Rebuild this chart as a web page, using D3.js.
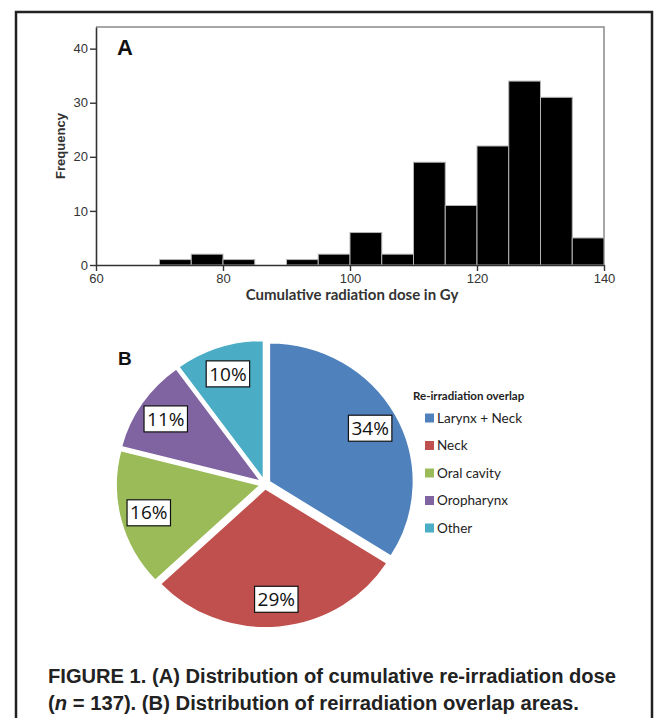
<!DOCTYPE html>
<html>
<head>
<meta charset="utf-8">
<script src="https://cdn.jsdelivr.net/npm/d3@7"></script>
<style>
  html, body { margin: 0; padding: 0; background: #fff; }
  svg { display: block; }
</style>
</head>
<body>
<script>
// ---------- DATA ----------
const binStarts = [70, 75, 80, 85, 90, 95, 100, 105, 110, 115, 120, 125, 130, 135];
const binWidth = 5;
const frequencies = [1, 2, 1, 0, 1, 2, 6, 2, 19, 11, 22, 34, 31, 5];
const xTicks = [60, 80, 100, 120, 140];
const yTicks = [0, 10, 20, 30, 40];

const pieCategories = ["Larynx + Neck", "Neck", "Oral cavity", "Oropharynx", "Other"];
const pieValues = [34, 29, 16, 11, 10];
const pieColors = ["#4F81BD", "#C0504D", "#9BBB59", "#8064A2", "#4BACC6"];

const W = 654, H = 718;
const svg = d3.select("body").append("svg").attr("width", W).attr("height", H);

// outer frame
svg.append("path")
  .attr("d", "M16,720 L16,12 L652,12 L652,720")
  .attr("fill", "none").attr("stroke", "#222").attr("stroke-width", 2.5);

// ---------- HISTOGRAM ----------
const x = d3.scaleLinear().domain([60, 140]).range([96, 604]);
const y = d3.scaleLinear().domain([0, 44]).range([265, 27]);

// box top/right
svg.append("path")
  .attr("d", `M${x(60)},${y(44)} L${x(140)},${y(44)} L${x(140)},${y(0)}`)
  .attr("fill", "none").attr("stroke", "#8a8a8a").attr("stroke-width", 1.5);

svg.append("g").selectAll("rect")
  .data(binStarts.map((b, i) => ({ b, f: frequencies[i] })).filter(d => d.f > 0))
  .join("rect")
  .attr("x", d => x(d.b))
  .attr("width", d => x(d.b + binWidth) - x(d.b))
  .attr("y", d => y(d.f))
  .attr("height", d => y(0) - y(d.f))
  .attr("fill", "#000")
  .attr("stroke", "#b5b5b5").attr("stroke-width", 1);

const xAxis = svg.append("g").attr("transform", `translate(0,${y(0)})`)
  .call(d3.axisBottom(x).tickValues(xTicks).tickSize(6).tickSizeOuter(0).tickPadding(3));
const yAxis = svg.append("g").attr("transform", `translate(${x(60)},0)`)
  .call(d3.axisLeft(y).tickValues(yTicks).tickSize(6).tickSizeOuter(0).tickPadding(2));
[xAxis, yAxis].forEach(a => {
  a.select(".domain").attr("stroke", "#333").attr("stroke-width", 1.6);
  a.selectAll(".tick line").attr("stroke", "#333").attr("stroke-width", 1.4);
  a.selectAll(".tick text").attr("fill", "#333")
    .style("font-family", "Liberation Sans, Arial, sans-serif").style("font-size", "13px");
});

svg.append("text").attr("x", 117).attr("y", 55)
  .style("font-family", "Liberation Sans, Arial, sans-serif").style("font-weight", "bold")
  .style("font-size", "22px").attr("fill", "#111").text("A");

svg.append("text")
  .attr("transform", `translate(65,${(y(0) + y(44)) / 2}) rotate(-90)`)
  .attr("text-anchor", "middle")
  .style("font-family", "Liberation Sans, Arial, sans-serif").style("font-weight", "bold")
  .style("font-size", "13px").attr("fill", "#333").text("Frequency");

svg.append("text").attr("x", 352).attr("y", 300).attr("text-anchor", "middle")
  .style("font-family", "Lato, 'Open Sans', sans-serif").style("font-weight", "bold")
  .style("font-size", "15px").attr("fill", "#333").text("Cumulative radiation dose in Gy");

// ---------- PIE ----------
const cx = 265, cy = 484, r = 144, explode = 5, labelR = 120, yScale = 0.965;
const pie = d3.pie().sort(null).value(d => d)(pieValues);
const arc = d3.arc().innerRadius(0).outerRadius(r);
const pg = svg.append("g").attr("transform", `translate(${cx},${cy}) scale(1,${yScale})`);

pg.selectAll("path").data(pie).join("path")
  .attr("d", arc)
  .attr("transform", d => {
    const a = (d.startAngle + d.endAngle) / 2;
    return `translate(${Math.sin(a) * explode},${-Math.cos(a) * explode})`;
  })
  .attr("fill", (d, i) => pieColors[i])
  .attr("stroke", "#fff").attr("stroke-width", 1.5);

const lg = svg.append("g").attr("transform", `translate(${cx},${cy})`);
pie.forEach((d, i) => {
  const a = (d.startAngle + d.endAngle) / 2;
  const lx = Math.sin(a) * labelR, ly = -Math.cos(a) * labelR * yScale;
  const g = lg.append("g").attr("transform", `translate(${lx},${ly})`);
  const t = g.append("text").attr("text-anchor", "middle").attr("dy", "0.35em")
    .style("font-family", "'Open Sans', 'DejaVu Sans', sans-serif")
    .style("font-size", "19px").attr("fill", "#111")
    .text(Math.round(pieValues[i] / d3.sum(pieValues) * 100) + "%");
  const bb = t.node().getBBox();
  g.insert("rect", "text")
    .attr("x", bb.x - 3).attr("y", -13).attr("width", bb.width + 6).attr("height", 26)
    .attr("fill", "#fff").attr("stroke", "#111").attr("stroke-width", 1.2);
});

svg.append("text").attr("x", 118).attr("y", 365)
  .style("font-family", "Liberation Sans, Arial, sans-serif").style("font-weight", "bold")
  .style("font-size", "19px").attr("fill", "#111").text("B");

// legend
const leg = svg.append("g");
leg.append("text").attr("x", 413).attr("y", 400)
  .style("font-family", "Lato, sans-serif").style("font-weight", "bold")
  .style("font-size", "11.5px").attr("fill", "#222").text("Re-irradiation overlap");
const legY = d3.scalePoint().domain(pieCategories).range([418, 528]);
pieCategories.forEach((c, i) => {
  leg.append("rect").attr("x", 425).attr("y", legY(c) - 4.5).attr("width", 9).attr("height", 9)
    .attr("fill", pieColors[i]);
  leg.append("text").attr("x", 437).attr("y", legY(c)).attr("dy", "0.36em")
    .style("font-family", "Lato, sans-serif").style("font-size", "13.5px").attr("fill", "#222").text(c);
});

// ---------- CAPTION ----------
const capFont = "'Liberation Sans Narrow', 'Arial Narrow', 'Liberation Sans', sans-serif";
svg.append("text").attr("x", 48).attr("y", 683)
  .style("font-family", capFont).style("font-weight", "bold")
  .style("font-size", "20px").attr("fill", "#222")
  .attr("textLength", 568).attr("lengthAdjust", "spacingAndGlyphs")
  .text("FIGURE 1. (A) Distribution of cumulative re-irradiation dose");
const l2 = svg.append("text").attr("x", 48).attr("y", 710)
  .style("font-family", capFont).style("font-weight", "bold")
  .style("font-size", "20px").attr("fill", "#222")
  .attr("textLength", 531).attr("lengthAdjust", "spacingAndGlyphs");
l2.append("tspan").text("(");
l2.append("tspan").style("font-style", "italic").text("n");
l2.append("tspan").text(" = 137). (B) Distribution of reirradiation overlap areas.");
</script>
</body>
</html>
